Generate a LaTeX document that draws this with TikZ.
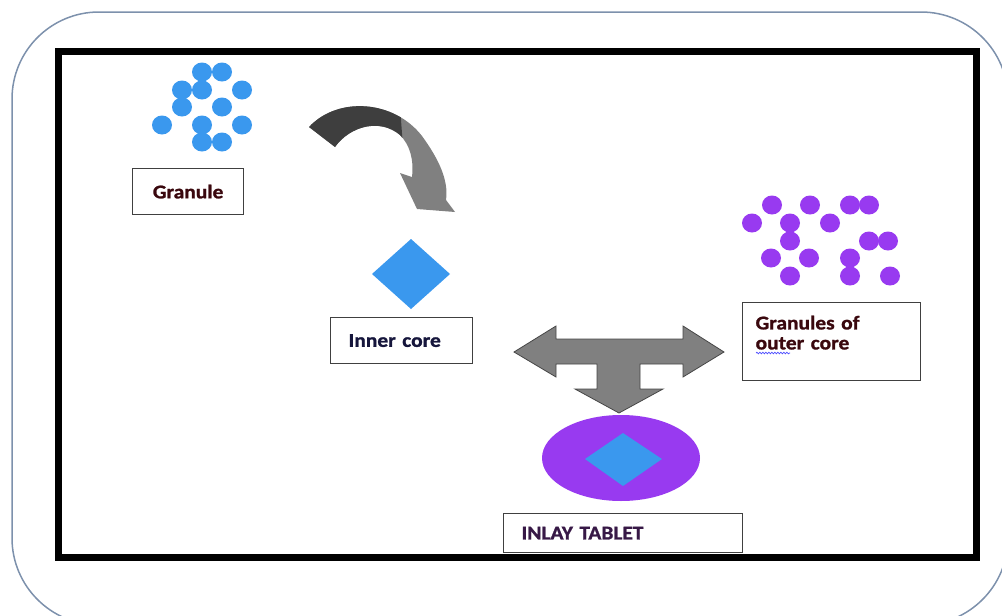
\documentclass[tikz,border=0pt]{standalone}
\usepackage{fontspec}
\setmainfont{Carlito}[FakeStretch=1.1, BoldFeatures={FakeBold=1.2}]
\usetikzlibrary{decorations.pathmorphing}
\definecolor{gblue}{RGB}{58,152,238}
\definecolor{gpurple}{RGB}{152,58,240}
\definecolor{framecol}{RGB}{125,145,172}
\definecolor{txtmaroon}{RGB}{58,8,14}
\definecolor{txtnavy}{RGB}{22,22,60}
\definecolor{txtplum}{RGB}{55,24,70}
\definecolor{arrgray}{RGB}{128,128,128}
\definecolor{arrdark}{RGB}{62,62,62}
\begin{document}
\begin{tikzpicture}[x=1pt,y=-1pt,
  lbl/.style={draw=black!75, line width=1.2pt, fill=white, anchor=north west, inner ysep=0pt, font=\fontsize{19.5}{20}\selectfont\bfseries},
  dotb/.style={fill=gblue},
  dotp/.style={fill=gpurple}]
\useasboundingbox (0,0) rectangle (1002,616);
% outer rounded frame
\draw[framecol, line width=1.5pt, rounded corners=87pt] (12,12) rectangle (1008,625);
% inner black frame
\draw[line width=7pt] (58,51.5) rectangle (976,557);

% blue granules
\foreach \x/\y in {202/72,222/72,182/90,202/90,242/90,182/107,222/107,162/125,202/125,242/125,202/142,222/142}
  \fill[dotb] (\x,\y) ellipse [x radius=10, y radius=9.5];

% purple granules
\foreach \x/\y in {772/205,810/205,850/205,869/205,752/223,790/223,830/223,790/241,869/241,888/241,771/258,809/258,850/258,790/276,850/276,890/276}
  \fill[dotp] (\x,\y) ellipse [x radius=10, y radius=9.5];

% curved arrow
\def\curvedarrow{(309,127) .. controls (338,96) and (394,100) .. (422,136) .. controls (438,158) and (449,180) .. (446,200) -- (455,212) -- (417,209) -- (400,173) -- (412,177) .. controls (414,160) and (410,145) .. (400,135) .. controls (380,118) and (350,126) .. (335,147) -- cycle}
\fill[arrgray] \curvedarrow;
\begin{scope}
  \clip (290,80) -- (398,80) -- (404,160) -- (290,170) -- cycle;
  \fill[arrdark] \curvedarrow;
\end{scope}

% inner core diamond
\fill[gblue] (372,274) -- (411,239) -- (450,274) -- (411,309) -- cycle;

% T arrow
\fill[arrgray, draw=arrgray!55!black, line width=0.8pt] (514,352) -- (556,326) -- (556,339) -- (683,339) -- (683,326) -- (724,352) -- (683,377) -- (683,364) -- (640,364) -- (640,389) -- (663,389) -- (619,413) -- (575,389) -- (597,389) -- (597,364) -- (556,364) -- (556,377) -- cycle;

% inlay tablet
\fill[gpurple] (621,458) ellipse [x radius=79, y radius=43];
\fill[gblue] (585,459) -- (623,433) -- (662,459) -- (623,486) -- cycle;

% labels
\node[lbl, text=txtmaroon, minimum width=111pt, minimum height=46pt, align=center] (granule) at (132,168) {Granule};
\node[lbl, text=txtnavy, minimum height=46pt, text width=106pt, inner xsep=18pt, align=left] (inner) at (330,317) {Inner core};
\node[lbl, text=txtmaroon, minimum height=78pt, text width=152pt, inner xsep=13pt, align=left] (outer) at (742,302) {\raisebox{1pt}[0pt][0pt]{\begin{tabular}{@{}l@{}}Granules of\\outer core\end{tabular}}};
\node[lbl, text=txtplum, minimum height=39pt, text width=203pt, inner xsep=18pt, align=left] (inlay) at (503,513) {INLAY TABLET};
\draw[blue!70!white, line width=0.7pt, decorate, decoration={snake, amplitude=0.8pt, segment length=3pt}] (756,353) -- (790,353);
\end{tikzpicture}
\end{document}
